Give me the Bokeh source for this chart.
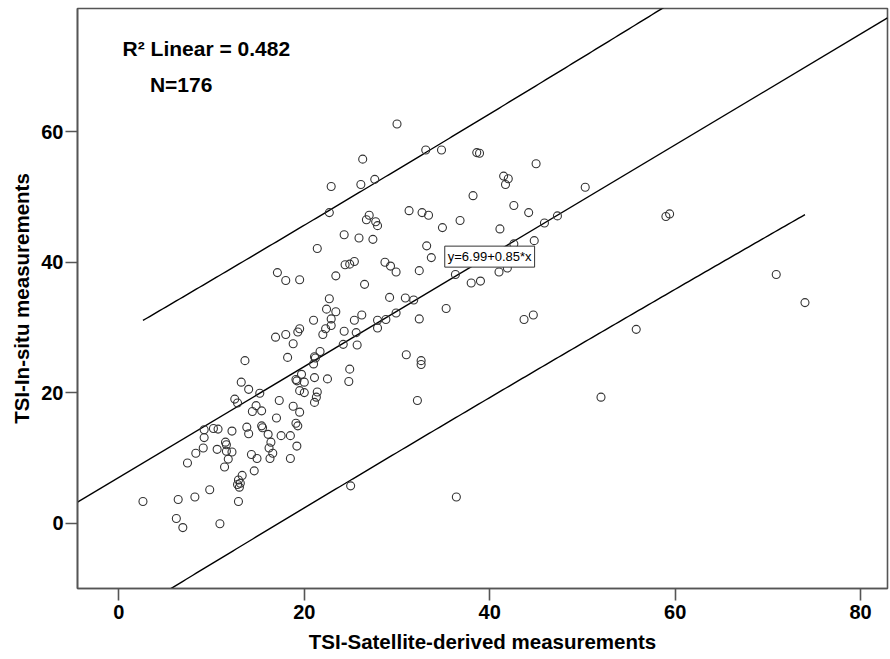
import numpy as np
from bokeh.plotting import figure
from bokeh.models import Label, FixedTicker, Range1d
from bokeh.embed import file_html
from bokeh.resources import INLINE

# ---- data ----
sat = [13.6, 13.2, 14.0, 15.2, 12.5, 12.8, 14.8, 14.4, 15.4, 17.3, 17.0, 9.2, 10.2, 10.7, 12.2, 13.8, 15.4, 15.5,
       14.0, 16.1, 17.5, 9.2, 11.5, 11.6, 16.4, 16.2, 9.1, 8.3, 10.6, 11.6, 12.2, 14.3, 14.9, 16.6, 16.3, 7.4,
       11.8, 11.4, 14.6, 13.3, 12.9, 12.8, 13.0, 9.8, 2.6, 6.4, 8.2, 12.9, 6.2, 6.9, 10.9,
       18.8, 18.2, 21.7, 21.1, 21.2, 21.0, 24.2, 25.7, 19.7, 19.1, 19.2, 20.0, 21.1, 22.5, 24.9, 24.8, 19.5, 20.0,
       21.4, 21.3, 21.1, 18.8, 19.5, 19.1, 19.3, 18.5, 19.2, 18.5, 31.0, 32.6, 32.6, 32.2, 25.0,
       30.0, 26.3, 33.1, 22.9, 26.1, 27.6, 22.7, 27.0, 26.7, 27.7, 27.9, 31.3, 32.7, 33.4, 24.3, 25.9, 27.4, 21.4,
       33.2, 33.7, 24.4, 24.9, 25.4, 28.7, 29.3, 29.9, 32.4, 17.1, 18.0, 19.5, 23.4, 26.5, 29.2, 30.9, 31.8, 32.4,
       22.7, 22.4, 23.4, 22.9, 21.0, 26.2, 25.4, 27.9, 28.8, 29.9, 22.9, 22.3, 22.0, 24.3, 25.6, 27.9, 19.5, 19.3,
       18.0, 16.9,
       34.8, 38.6, 38.9, 45.0, 41.5, 42.0, 41.7, 38.2, 50.3, 42.6, 44.2, 34.9, 36.8, 41.1, 45.9, 47.3, 44.8, 42.6,
       36.3, 41.0, 41.9, 38.0, 39.0, 35.3, 43.7, 44.7,
       36.4, 59.0, 59.4, 70.9, 74.0, 55.8, 52.0,
       40.3, 43.4, 13.1]
insitu = [24.9, 21.6, 20.5, 19.9, 19.0, 18.4, 18.0, 17.1, 17.2, 18.8, 16.1, 14.3, 14.5, 14.4, 14.1, 14.7, 14.9, 14.6,
          13.7, 13.6, 13.4, 13.1, 12.4, 12.0, 12.4, 11.5, 11.5, 10.7, 11.3, 11.0, 10.9, 10.5, 9.9, 10.7, 9.9, 9.2,
          9.8, 8.6, 8.0, 7.3, 6.6, 5.9, 5.5, 5.1, 3.3, 3.6, 4.0, 3.3, 0.7, -0.7, -0.1,
          27.5, 25.4, 26.3, 25.5, 25.3, 24.4, 27.4, 27.3, 22.8, 22.0, 21.8, 21.6, 22.3, 22.1, 23.6, 21.7, 20.3, 20.0,
          20.1, 19.3, 18.5, 17.9, 17.0, 15.3, 14.9, 13.4, 11.8, 9.9, 25.8, 24.9, 24.3, 18.8, 5.7,
          61.2, 55.8, 57.2, 51.6, 51.9, 52.7, 47.6, 47.2, 46.5, 46.2, 45.6, 47.9, 47.6, 47.2, 44.2, 43.7, 43.5, 42.1,
          42.5, 40.7, 39.6, 39.7, 40.1, 40.0, 39.4, 38.5, 38.7, 38.4, 37.2, 37.3, 37.9, 36.6, 34.6, 34.5, 34.2, 31.3,
          34.4, 32.8, 32.4, 31.3, 31.1, 31.9, 31.1, 31.1, 31.2, 32.2, 30.3, 29.8, 28.9, 29.4, 29.2, 29.9, 29.8, 29.3,
          28.9, 28.5,
          57.2, 56.8, 56.7, 55.1, 53.2, 52.8, 51.9, 50.2, 51.5, 48.7, 47.6, 45.3, 46.4, 45.1, 46.0, 47.1, 43.3, 42.8,
          38.1, 38.5, 39.1, 36.8, 37.1, 32.9, 31.2, 31.9,
          4.0, 47.0, 47.4, 38.1, 33.8, 29.7, 19.3,
          40.9, 41.5, 6.1]

x_ticks = [0, 20, 40, 60, 80]
y_ticks = [0, 20, 40, 60]
intercept = 6.99
slope = 0.85
r2_text = "R\u00b2 Linear = 0.482"
n_text = "N=176"
eq_text = "y=6.99+0.85*x"
x_title = "TSI-Satellite-derived measurements"
y_title = "TSI-In-situ measurements"

x_lo, x_hi = -4.46, 82.9
y_lo, y_hi = -10.04, 78.9

FONT = "Liberation Sans"

x = np.array(sat, dtype=float)
y = np.array(insitu, dtype=float)
n = len(x)
resid = y - (intercept + slope * x)
s = np.sqrt(np.sum(resid ** 2) / (n - 2))
t_crit = 1.9736
xg = np.linspace(x.min(), x.max(), 200)
half = t_crit * s * np.sqrt(1 + 1 / n + (xg - x.mean()) ** 2 / np.sum((x - x.mean()) ** 2))
fit_g = intercept + slope * xg

p = figure(width=890, height=659, x_range=Range1d(x_lo, x_hi), y_range=Range1d(y_lo, y_hi),
           output_backend="svg", toolbar_location=None,
           min_border_left=77, min_border_right=3, min_border_top=8, min_border_bottom=71)

p.grid.visible = False
p.background_fill_color = "white"
p.border_fill_color = "white"
p.outline_line_color = "#555555"
p.outline_line_width = 1.6
p.outline_line_alpha = 1.0

p.xaxis.ticker = FixedTicker(ticks=x_ticks)
p.yaxis.ticker = FixedTicker(ticks=y_ticks)
for ax in (p.xaxis[0], p.yaxis[0]):
    ax.major_label_text_font = FONT
    ax.major_label_text_font_style = "bold"
    ax.major_label_text_font_size = "20px"
    ax.major_label_text_color = "black"
    ax.axis_label_text_font = FONT
    ax.axis_label_text_font_style = "bold"
    ax.axis_label_text_font_size = "20.5px"
    ax.axis_label_text_color = "black"
    ax.axis_line_color = "#555555"
    ax.axis_line_width = 1.6
    ax.major_tick_line_color = "#555555"
    ax.major_tick_line_width = 1.6
    ax.major_tick_out = 12
    ax.major_tick_in = 0
    ax.minor_tick_line_color = None
p.xaxis.major_label_standoff = 4
p.xaxis.axis_label_standoff = 8
p.yaxis.major_label_standoff = 2
p.yaxis.axis_label_standoff = 5
p.xaxis.axis_label = x_title
p.yaxis.axis_label = y_title

# fit line and prediction limits
p.line([x_lo, x_hi], [intercept + slope * x_lo, intercept + slope * x_hi], line_color="black", line_width=1.4)
p.line(xg, fit_g + half, line_color="black", line_width=1.4)
p.line(xg, fit_g - half, line_color="black", line_width=1.4)

p.scatter(x, y, marker="circle", size=8, fill_color=None, line_color="#333333", line_width=1.1)

p.add_layout(Label(x=35.15, y=40.85, text=eq_text, text_baseline="middle", text_align="left",
                   text_font=FONT, text_font_size="13px", text_color="black",
                   border_line_color="#333333", border_line_width=1,
                   background_fill_color="white", padding=3))
p.add_layout(Label(x=0.4, y=72.7, text=r2_text, text_baseline="middle", text_font=FONT,
                   text_font_style="bold", text_font_size="21px", text_color="black"))
p.add_layout(Label(x=3.35, y=67.2, text=n_text, text_baseline="middle", text_font=FONT,
                   text_font_style="bold", text_font_size="21px", text_color="black"))

open("out.html", "w").write(file_html(p, INLINE))
